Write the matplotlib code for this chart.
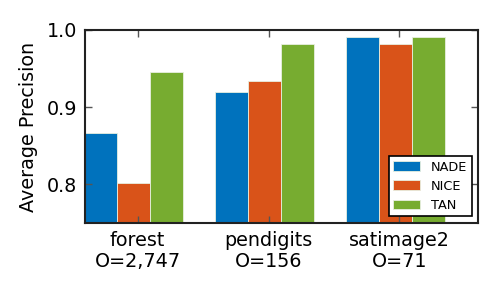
import numpy as np
import matplotlib.pyplot as plt

datasets = ["forest\nO=2,747", "pendigits\nO=156", "satimage2\nO=71"]
methods = ["NADE", "NICE", "TAN"]
nade = [0.867, 0.920, 0.991]
nice = [0.802, 0.934, 0.982]
tan = [0.945, 0.982, 0.991]
colors = ["#0072BD", "#D95319", "#77AC30"]

fig, ax = plt.subplots(figsize=(4.98, 2.91), dpi=100)
fig.subplots_adjust(left=0.171, right=0.96, top=0.897, bottom=0.234)

x = np.arange(len(datasets))
w = 0.253
for j, (name, vals) in enumerate(zip(methods, [nade, nice, tan])):
    ax.bar(x - 0.41 + j * w, vals, w, align="edge", color=colors[j],
           edgecolor="#e8efe0", linewidth=0.6, label=name)

ax.set_xlim(-0.4, 2.6)
ax.set_ylim(0.75, 1.0)
ax.set_yticks([0.8, 0.9, 1.0])
ax.set_yticklabels(["0.8", "0.9", "1.0"])
ax.set_xticks(x)
ax.set_xticklabels(datasets, fontsize=13.8, linespacing=1.1)
ax.tick_params(axis="y", labelsize=13.8)
ax.tick_params(direction="in", top=True, right=True, length=5, width=1,
               color="#555555", pad=6)
for s in ax.spines.values():
    s.set_linewidth(1.5)
    s.set_color("#222222")
ax.set_ylabel("Average Precision", fontsize=13.8, labelpad=6)

leg = ax.legend(loc="lower right", fontsize=9.3, fancybox=False, framealpha=1,
                edgecolor="black", handlelength=2.1, handleheight=0.75,
                borderaxespad=0.5, labelspacing=0.48, borderpad=0.35)
leg.get_frame().set_linewidth(1.2)

plt.savefig("out.png", dpi=100)
